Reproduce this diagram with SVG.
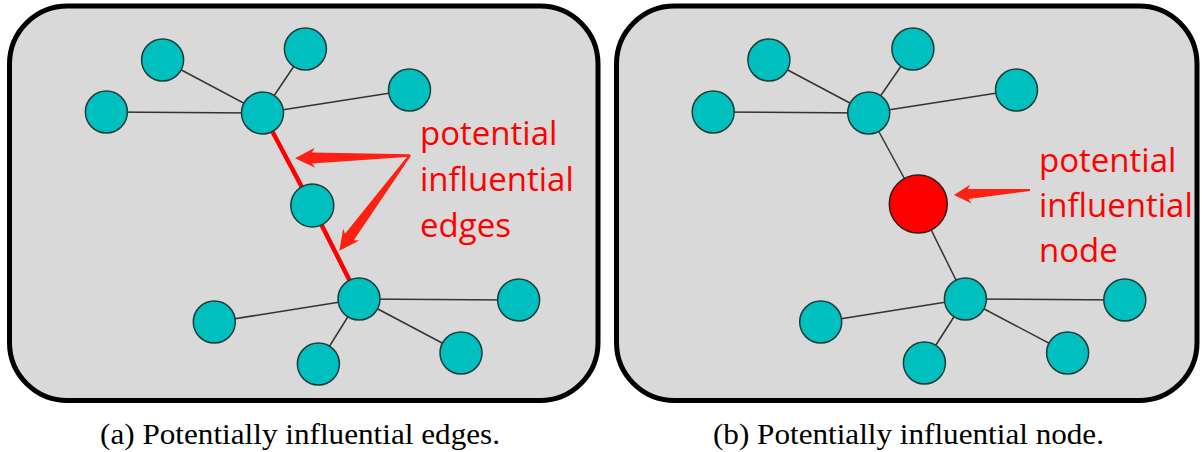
<svg xmlns="http://www.w3.org/2000/svg" width="1202" height="452" viewBox="0 0 1202 452">
<style>
.panel{fill:#d9d9d9;stroke:#000;stroke-width:5}
.n{fill:#00bfbf;stroke:#1f3c3c;stroke-width:1.5}
.rn{fill:#ff0000;stroke:#3a1a1a;stroke-width:1.5}
.e{stroke:#333;stroke-width:1.5;fill:none}
.re{stroke:#ff0000;stroke-width:4.5;fill:none}
.arr{fill:#ff2014;stroke:none}
.lbl{font-family:'Open Sans','Noto Sans',sans-serif;font-size:33px;fill:#ff0000}
.cap{font-family:'Liberation Serif','DejaVu Serif',serif;font-size:28.5px;fill:#000}
</style>
<rect class="panel" x="9.5" y="6" width="588.5" height="394.5" rx="58" ry="58"/>
<rect class="panel" x="616.5" y="6" width="580.5" height="394.5" rx="58" ry="58"/>
<g id="connectors">
<line class="e" x1="262.5" y1="113" x2="162.6" y2="60"/>
<line class="e" x1="262.5" y1="113" x2="305.4" y2="49"/>
<line class="e" x1="262.5" y1="113" x2="409.5" y2="90"/>
<line class="e" x1="262.5" y1="113" x2="106.4" y2="112"/>
<line class="re" x1="262.5" y1="113" x2="312" y2="206"/>
<line class="re" x1="312" y1="206" x2="359" y2="299"/>
<line class="e" x1="359" y1="299" x2="518.6" y2="300"/>
<line class="e" x1="359" y1="299" x2="214.3" y2="322"/>
<line class="e" x1="359" y1="299" x2="461" y2="353"/>
<line class="e" x1="359" y1="299" x2="318.4" y2="364"/>
<line class="e" x1="868.7" y1="113" x2="768.9" y2="60"/>
<line class="e" x1="868.7" y1="113" x2="912.9" y2="49"/>
<line class="e" x1="868.7" y1="113" x2="1016.5" y2="90"/>
<line class="e" x1="868.7" y1="113" x2="713.2" y2="112"/>
<line class="e" x1="868.7" y1="113" x2="918.3" y2="204"/>
<line class="e" x1="918.3" y1="204" x2="965.4" y2="299"/>
<line class="e" x1="965.4" y1="299" x2="1124.8" y2="300"/>
<line class="e" x1="965.4" y1="299" x2="820.7" y2="322"/>
<line class="e" x1="965.4" y1="299" x2="1067.6" y2="353"/>
<line class="e" x1="965.4" y1="299" x2="924.4" y2="363"/>
</g>
<g id="left-nodes">
<g id="a-hub1"><circle class="n" cx="262.5" cy="113" r="21"/></g>
<g id="a-n1"><circle class="n" cx="162.6" cy="60" r="21"/></g>
<g id="a-n2"><circle class="n" cx="305.4" cy="49" r="21"/></g>
<g id="a-n3"><circle class="n" cx="409.5" cy="90" r="21"/></g>
<g id="a-n4"><circle class="n" cx="106.4" cy="112" r="21"/></g>
<g id="a-mid"><circle class="n" cx="312.3" cy="205.5" r="21.5"/></g>
<g id="a-hub2"><circle class="n" cx="359" cy="299" r="21"/></g>
<g id="a-n5"><circle class="n" cx="518.6" cy="300" r="21"/></g>
<g id="a-n6"><circle class="n" cx="214.3" cy="322" r="21"/></g>
<g id="a-n7"><circle class="n" cx="461" cy="353" r="21"/></g>
<g id="a-n8"><circle class="n" cx="318.4" cy="364" r="21"/></g>
</g>
<g id="right-nodes">
<g id="b-hub1"><circle class="n" cx="868.7" cy="113" r="21"/></g>
<g id="b-n1"><circle class="n" cx="768.9" cy="60" r="21"/></g>
<g id="b-n2"><circle class="n" cx="912.9" cy="49" r="21"/></g>
<g id="b-n3"><circle class="n" cx="1016.5" cy="90" r="21"/></g>
<g id="b-n4"><circle class="n" cx="713.2" cy="112" r="21"/></g>
<g id="b-red"><circle class="rn" cx="918.3" cy="204" r="29"/></g>
<g id="b-hub2"><circle class="n" cx="965.4" cy="299" r="21"/></g>
<g id="b-n5"><circle class="n" cx="1124.8" cy="300" r="21"/></g>
<g id="b-n6"><circle class="n" cx="820.7" cy="322" r="21"/></g>
<g id="b-n7"><circle class="n" cx="1067.6" cy="353" r="21"/></g>
<g id="b-n8"><circle class="n" cx="924.4" cy="363" r="21"/></g>
</g>
<g id="arrows">
<polygon class="arr" points="295,158.3 314.8,147.8 311.9,152.4 410,154.3 410,156.7 312.1,163.4 315.2,167.8"/>
<polygon class="arr" points="339.3,250.7 359.2,240.5 353.8,240.3 410.9,155.7 409.1,154.3 345,233.7 343.2,228.7"/>
<polygon class="arr" points="954,195 970.4,184.4 967.7,189.1 1029.9,189 1030.1,191 968.3,199.1 971.6,203.4"/>
</g>
<g id="label-a">
<text class="lbl" x="420" y="145">potential</text>
<text class="lbl" x="420" y="191">influential</text>
<text class="lbl" x="420" y="236.5">edges</text>
</g>
<g id="label-b">
<text class="lbl" x="1039" y="171.5">potential</text>
<text class="lbl" x="1039" y="216.5">influential</text>
<text class="lbl" x="1039" y="261.5">node</text>
</g>
<text class="cap" x="100" y="444" textLength="400" lengthAdjust="spacingAndGlyphs">(a) Potentially influential edges.</text>
<text class="cap" x="713" y="444" textLength="391" lengthAdjust="spacingAndGlyphs">(b) Potentially influential node.</text>
</svg>
